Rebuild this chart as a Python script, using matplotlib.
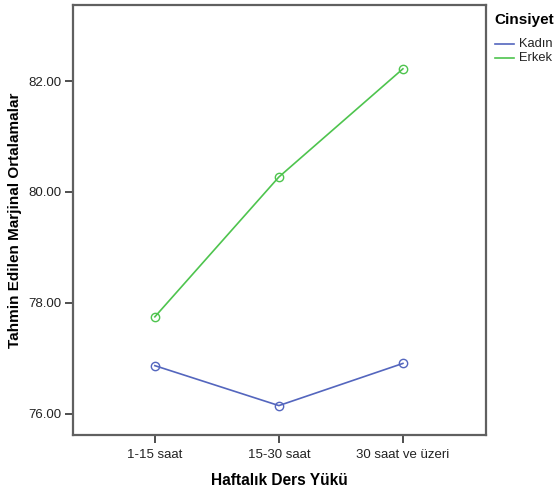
import matplotlib
matplotlib.use("Agg")
import matplotlib.pyplot as plt
from matplotlib.lines import Line2D

plt.rcParams['font.family'] = ['Liberation Sans', 'DejaVu Sans']

categories = ["1-15 saat", "15-30 saat", "30 saat ve üzeri"]
kadin = [76.87, 76.15, 76.91]
erkek = [77.75, 80.27, 82.22]
yticks = [76.0, 78.0, 80.0, 82.0]
series_names = ["Kadın", "Erkek"]
colors = ["#5466be", "#4ec44e"]

W, H = 555, 492
fig = plt.figure(figsize=(W/100, H/100), dpi=100)
ax = fig.add_axes([73/W, 1-435/H, (486-73)/W, (435-5)/H])

x = list(range(len(categories)))
for vals, c in zip([kadin, erkek], colors):
    ax.plot(x, vals, color=c, lw=1.2, marker='o', markersize=6,
            markerfacecolor='none', markeredgecolor=c, markeredgewidth=1.0)

ax.set_xlim(-0.66, 2.67)
ax.set_ylim(75.62, 83.37)
ax.set_xticks(x)
ax.set_xticklabels(categories)
ax.set_yticks(yticks)
ax.set_yticklabels([f"{v:.2f}" for v in yticks])
for s in ax.spines.values():
    s.set_color('#606060')
    s.set_linewidth(1.6)
ax.tick_params(axis='both', direction='out', length=6, width=1.2, color='#303030',
               labelsize=9.5, labelcolor='#222222', pad=2)
ax.tick_params(axis='x', pad=4)
ax.set_xlabel("Haftalık Ders Yükü", fontsize=11.2, fontweight='bold', labelpad=9)
ax.set_ylabel("Tahmin Edilen Marjinal Ortalamalar", fontsize=11, fontweight='bold', labelpad=5)

# legend drawn in figure pixel coordinates
fig.text(494/W, 1-20/H, "Cinsiyet", fontsize=11, fontweight='bold', va='center', ha='left')
for i, (name, c) in enumerate(zip(series_names, colors)):
    yy = 1-(44+14*i)/H
    fig.add_artist(Line2D([495/W, 514/W], [yy, yy], color=c, lw=1.2, transform=fig.transFigure))
    fig.text(519/W, yy, name, fontsize=9.3, va='center', ha='left', color='#222222')

fig.savefig("out.png", dpi=100, facecolor='white')
